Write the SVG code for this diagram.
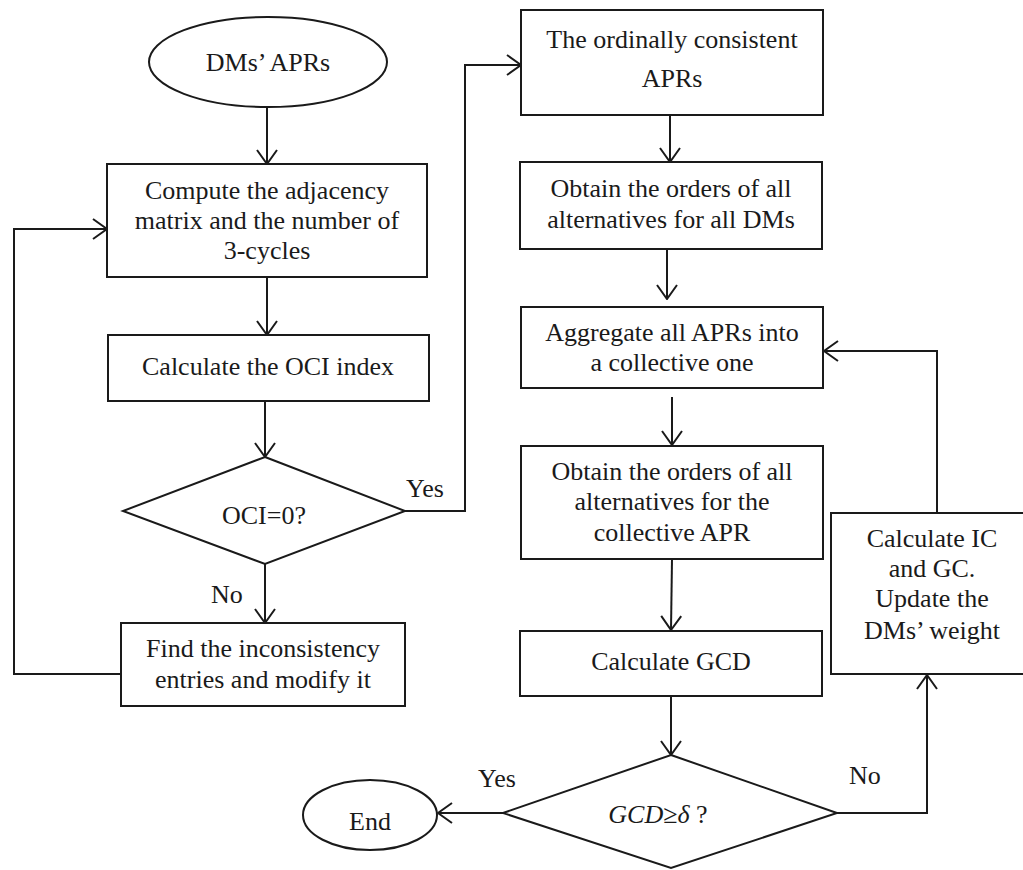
<svg xmlns="http://www.w3.org/2000/svg" width="1023" height="870" viewBox="0 0 1023 870">
<style>
.box{fill:#fff;stroke:#1a1a1a;stroke-width:2}
.t{font-family:"Liberation Serif","Times New Roman",serif;font-size:26px;fill:#1a1a1a;text-anchor:middle}
.l{font-family:"Liberation Serif","Times New Roman",serif;font-size:26px;fill:#1a1a1a}
.c{fill:none;stroke:#1a1a1a;stroke-width:2}
</style>
<defs>
<marker id="arr" viewBox="0 0 16 22" refX="15" refY="11" markerWidth="16" markerHeight="22" markerUnits="userSpaceOnUse" orient="auto">
<path d="M1,1 L15,11 L1,21" fill="none" stroke="#1a1a1a" stroke-width="2"/>
</marker>
</defs>
<rect width="1023" height="870" fill="#fff"/>
<g id="connectors">
<path class="c" d="M267,107 V164" marker-end="url(#arr)"/>
<path class="c" d="M267,277 V335" marker-end="url(#arr)"/>
<path class="c" d="M265,401 V457" marker-end="url(#arr)"/>
<path class="c" d="M265,564 V623" marker-end="url(#arr)"/>
<path class="c" d="M405,511 H465 V65 H521" marker-end="url(#arr)"/>
<path class="c" d="M121,674 H14 V229 H107" marker-end="url(#arr)"/>
<path class="c" d="M670,115 V162" marker-end="url(#arr)"/>
<path class="c" d="M667,249 V299" marker-end="url(#arr)"/>
<path class="c" d="M672,397 V445" marker-end="url(#arr)"/>
<path class="c" d="M672,559 L671,630" marker-end="url(#arr)"/>
<path class="c" d="M671,696 V755" marker-end="url(#arr)"/>
<path class="c" d="M837,813 H927 V675" marker-end="url(#arr)"/>
<path class="c" d="M937,512 V351 H824" marker-end="url(#arr)"/>
<path class="c" d="M503,813 H438" marker-end="url(#arr)"/>
<text class="l" x="406" y="497">Yes</text>
<text class="l" x="211" y="603">No</text>
<text class="l" x="478" y="787">Yes</text>
<text class="l" x="849" y="784">No</text>
</g>
<g id="start">
<ellipse class="box" cx="268" cy="62" rx="119" ry="45"/>
<text class="t" x="268" y="71">DMs’ APRs</text>
</g>
<g id="compute">
<rect class="box" x="107" y="164" width="320" height="113"/>
<text class="t" x="267" y="199">Compute the adjacency</text>
<text class="t" x="267" y="229">matrix and the number of</text>
<text class="t" x="267" y="259">3-cycles</text>
</g>
<g id="oci">
<rect class="box" x="108" y="335" width="321" height="66"/>
<text class="t" x="268" y="375">Calculate the OCI index</text>
</g>
<g id="dec1">
<polygon class="box" points="265,457 405,511 265,564 123,511"/>
<text class="t" x="264" y="524">OCI=0?</text>
</g>
<g id="find">
<rect class="box" x="121" y="623" width="284" height="83"/>
<text class="t" x="263" y="657">Find the inconsistency</text>
<text class="t" x="263" y="688">entries and modify it</text>
</g>
<g id="consistent">
<rect class="box" x="521" y="10" width="302" height="105"/>
<text class="t" x="672" y="48">The ordinally consistent</text>
<text class="t" x="672" y="87">APRs</text>
</g>
<g id="orders">
<rect class="box" x="520" y="162" width="302" height="87"/>
<text class="t" x="671" y="197">Obtain the orders of all</text>
<text class="t" x="671" y="228">alternatives for all DMs</text>
</g>
<g id="aggregate">
<rect class="box" x="521" y="307" width="302" height="81"/>
<text class="t" x="672" y="341">Aggregate all APRs into</text>
<text class="t" x="672" y="371">a collective one</text>
</g>
<g id="corders">
<rect class="box" x="521" y="446" width="302" height="113"/>
<text class="t" x="672" y="480">Obtain the orders of all</text>
<text class="t" x="672" y="510">alternatives for the</text>
<text class="t" x="672" y="541">collective APR</text>
</g>
<g id="gcd">
<rect class="box" x="520" y="631" width="302" height="65"/>
<text class="t" x="671" y="670">Calculate GCD</text>
</g>
<g id="dec2">
<polygon class="box" points="671,755 837,813 671,868 503,813"/>
<text class="t" x="658" y="823"><tspan font-style="italic">GCD≥δ</tspan> ?</text>
</g>
<g id="update">
<rect class="box" x="831" y="513" width="220" height="161"/>
<text class="t" x="932" y="547">Calculate IC</text>
<text class="t" x="932" y="577">and GC.</text>
<text class="t" x="932" y="607">Update the</text>
<text class="t" x="932" y="639">DMs’ weight</text>
</g>
<g id="end">
<ellipse class="box" cx="370" cy="815" rx="67" ry="35"/>
<text class="t" x="370" y="830">End</text>
</g>
</svg>
